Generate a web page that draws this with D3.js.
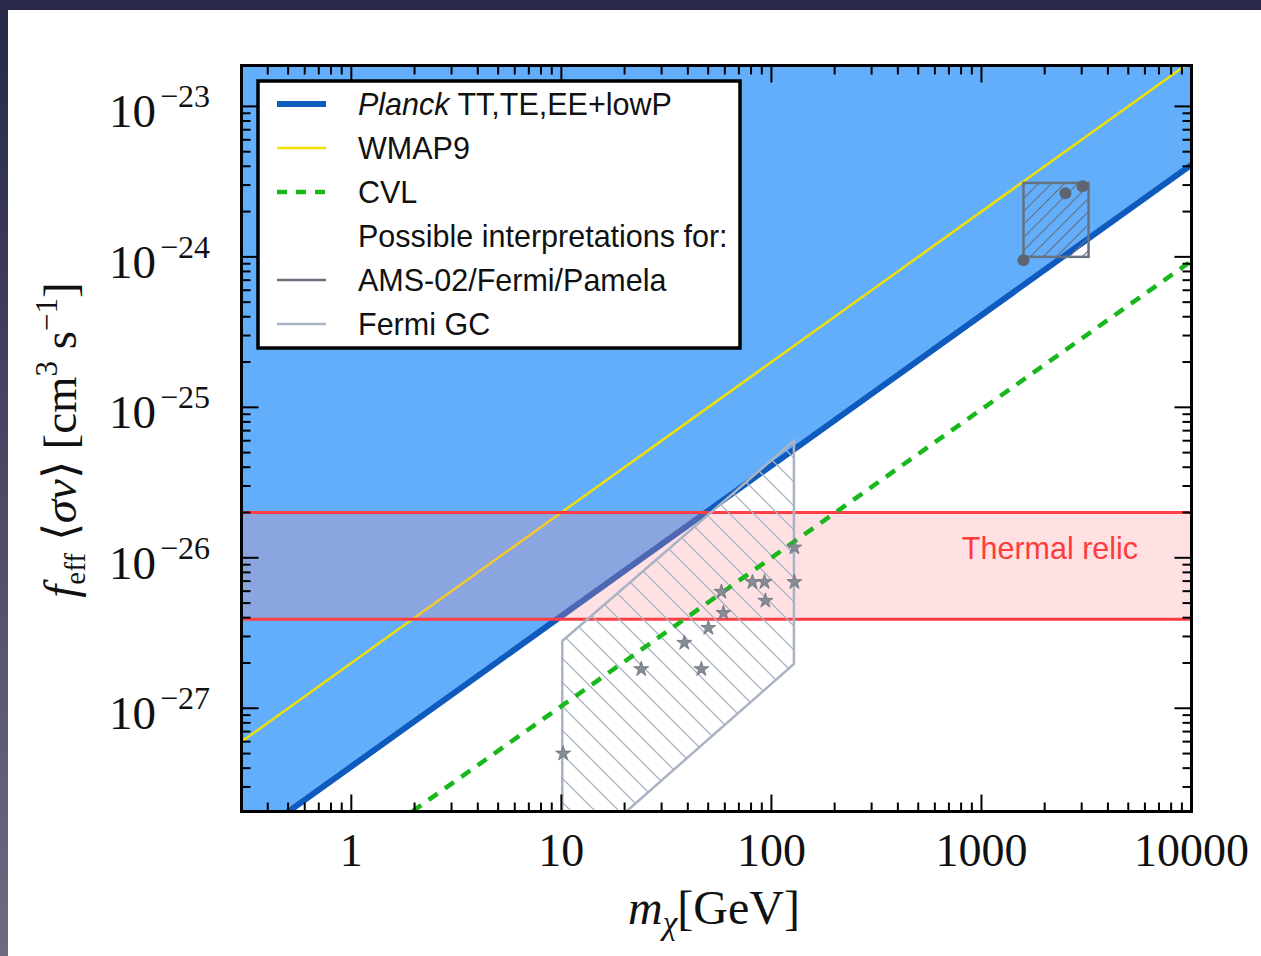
<!DOCTYPE html>
<html>
<head>
<meta charset="utf-8">
<script src="https://cdn.jsdelivr.net/npm/d3@7"></script>
<style>
  body { margin: 0; background: #ffffff; }
  svg { display: block; }
</style>
</head>
<body>
<svg id="chart" width="1261" height="956"></svg>
<script>
// ---- data: mass m_chi [GeV] vs f_eff <sigma v> [cm^3 s^-1] ----
const planckLine = [[0.3, 1.23e-28], [10000, 4.1e-24]];
const wmapLine   = [[0.3, 6.0e-28], [10000, 2.0e-23]];
const cvlLine    = [[1.95, 2.06e-28], [10000, 9.4e-25]];
const thermalBand = [3.9e-27, 2.0e-26];

const fermiGCRegion = [[10.1, 2.8e-27], [128, 6.0e-26], [128, 1.97e-27], [10.1, 8.7e-29]];
const fermiGCPoints = [
  [10.2, 5.0e-28], [24.0, 1.82e-27], [46.4, 1.82e-27], [38.5, 2.72e-27],
  [50.1, 3.42e-27], [59.1, 4.3e-27], [57.8, 5.94e-27], [81.2, 6.9e-27],
  [92.7, 6.9e-27], [93.6, 5.18e-27], [128.7, 1.17e-26], [128.7, 6.9e-27]
];
const amsRegion = [[1585, 1.0e-24], [3235, 3.1e-24]];
const amsPoints = [[1585, 9.5e-25], [2510, 2.65e-24], [3027, 2.95e-24]];

const xDomain = [0.3, 10000];
const yDomain = [2.06e-28, 1.87e-23];
const xTickValues = [1, 10, 100, 1000, 10000];
const xTickLabels = ["1", "10", "100", "1000", "10000"];
const yTickExponents = [-23, -24, -25, -26, -27];

const legendEntries = [
  { key: "planck", label: "TT,TE,EE+lowP", italic: "Planck" },
  { key: "wmap", label: "WMAP9" },
  { key: "cvl", label: "CVL" },
  { key: "none", label: "Possible interpretations for:" },
  { key: "ams", label: "AMS-02/Fermi/Pamela" },
  { key: "fermi", label: "Fermi GC" }
];

// ---- styles ----
const C = {
  fill: "#63aefb",
  planck: "#0f5bbd",
  wmap: "#f2e000",
  cvl: "#18b81c",
  band: "#ff8c97",
  bandEdge: "#ff3d45",
  fermi: "#a9b3c2",
  ams: "#67717f",
  star: "#858c96"
};

const svg = d3.select("#chart");
const W = 1261, H = 956;
const L = 241.5, R = 1191.5, T = 65.5, B = 811.5;

// dark surround along the top and left edges
const defs = svg.append("defs");
const grad = defs.append("linearGradient").attr("id", "edgeGrad")
  .attr("x1", 0).attr("y1", 0).attr("x2", 0).attr("y2", 1);
grad.append("stop").attr("offset", "0%").attr("stop-color", "#272848");
grad.append("stop").attr("offset", "100%").attr("stop-color", "#6d6b82");
svg.append("rect").attr("x", 0).attr("y", 0).attr("width", 8).attr("height", H).attr("fill", "url(#edgeGrad)");
svg.append("rect").attr("x", 0).attr("y", 0).attr("width", W).attr("height", 10).attr("fill", "#282948");

const x = d3.scaleLog().domain(xDomain).range([L, R]);
const y = d3.scaleLog().domain(yDomain).range([B, T]);

defs.append("clipPath").attr("id", "plotClip")
  .append("rect").attr("x", L).attr("y", T).attr("width", R - L).attr("height", B - T);

// hatch patterns
const hatchGC = defs.append("pattern").attr("id", "hatchGC")
  .attr("patternUnits", "userSpaceOnUse").attr("width", 24).attr("height", 24);
hatchGC.append("path").attr("d", "M0,0 L24,24 M-6,18 L6,30 M18,-6 L30,6")
  .attr("stroke", C.fermi).attr("stroke-width", 1.3).attr("fill", "none");

const hatchAMS = defs.append("pattern").attr("id", "hatchAMS")
  .attr("patternUnits", "userSpaceOnUse").attr("width", 13).attr("height", 13);
hatchAMS.append("path").attr("d", "M0,13 L13,0 M-4,4 L4,-4 M9,17 L17,9")
  .attr("stroke", C.ams).attr("stroke-width", 1.2).attr("fill", "none");

const plot = svg.append("g").attr("clip-path", "url(#plotClip)");
const line = d3.line().x(d => x(d[0])).y(d => y(d[1]));

// excluded region above the Planck limit
const excluded = [planckLine[0], planckLine[1], [planckLine[1][0], yDomain[1] * 10], [planckLine[0][0], yDomain[1] * 10]];
plot.append("path").attr("d", line(excluded) + "Z").attr("fill", C.fill);

plot.append("path").attr("d", line(planckLine))
  .attr("stroke", C.planck).attr("stroke-width", 6).attr("fill", "none");
plot.append("path").attr("d", line(wmapLine))
  .attr("stroke", C.wmap).attr("stroke-width", 2.5).attr("fill", "none");

// thermal relic band
plot.append("rect")
  .attr("x", L).attr("width", R - L)
  .attr("y", y(thermalBand[1])).attr("height", y(thermalBand[0]) - y(thermalBand[1]))
  .attr("fill", C.band).attr("fill-opacity", 0.26);
thermalBand.forEach(v => {
  plot.append("line").attr("x1", L).attr("x2", R).attr("y1", y(v)).attr("y2", y(v))
    .attr("stroke", C.bandEdge).attr("stroke-width", 3);
});

// Fermi GC region
plot.append("path").attr("d", line(fermiGCRegion) + "Z")
  .attr("fill", "url(#hatchGC)").attr("stroke", C.fermi).attr("stroke-width", 2.5);

// AMS-02/Fermi/Pamela region
plot.append("rect")
  .attr("x", x(amsRegion[0][0])).attr("y", y(amsRegion[1][1]))
  .attr("width", x(amsRegion[1][0]) - x(amsRegion[0][0]))
  .attr("height", y(amsRegion[0][1]) - y(amsRegion[1][1]))
  .attr("fill", "url(#hatchAMS)").attr("stroke", C.ams).attr("stroke-width", 2.5);
plot.selectAll("circle.ams").data(amsPoints).join("circle").attr("class", "ams")
  .attr("cx", d => x(d[0])).attr("cy", d => y(d[1])).attr("r", 6)
  .attr("fill", "#5e6570");

// CVL forecast
plot.append("path").attr("d", line(cvlLine))
  .attr("stroke", C.cvl).attr("stroke-width", 4.5).attr("stroke-dasharray", "11,9")
  .attr("fill", "none");

// Fermi GC best-fit points
const star = d3.symbol().type(d3.symbolStar).size(70);
plot.selectAll("path.star").data(fermiGCPoints).join("path").attr("class", "star")
  .attr("transform", d => `translate(${x(d[0])},${y(d[1])})`)
  .attr("d", star).attr("fill", C.star).attr("stroke", "#6a717b").attr("stroke-width", 0.8);

svg.append("text").attr("x", 1050).attr("y", 559)
  .attr("text-anchor", "middle")
  .attr("font-family", "Liberation Sans, Arial, sans-serif").attr("font-size", 30.5)
  .attr("fill", "#ff3b3b").text("Thermal relic");

// ---- ticks on all four sides ----
const tickG = svg.append("g").attr("stroke", "#000").attr("stroke-width", 2);
const majLen = 17, minLen = 9;
const xMinor = [];
for (let d = -1; d <= 4; d++) for (let k = 1; k <= 9; k++) {
  const v = k * Math.pow(10, d);
  if (v >= xDomain[0] && v <= xDomain[1]) xMinor.push({ v, major: k === 1 });
}
xMinor.forEach(t => {
  const px = x(t.v), len = t.major ? majLen : minLen;
  tickG.append("line").attr("x1", px).attr("x2", px).attr("y1", B).attr("y2", B - len);
  tickG.append("line").attr("x1", px).attr("x2", px).attr("y1", T).attr("y2", T + len);
});
const yMinor = [];
for (let d = -29; d <= -23; d++) for (let k = 1; k <= 9; k++) {
  const v = k * Math.pow(10, d);
  if (v >= yDomain[0] && v <= yDomain[1]) yMinor.push({ v, major: k === 1 });
}
yMinor.forEach(t => {
  const py = y(t.v), len = t.major ? majLen : minLen;
  tickG.append("line").attr("y1", py).attr("y2", py).attr("x1", L).attr("x2", L + len);
  tickG.append("line").attr("y1", py).attr("y2", py).attr("x1", R).attr("x2", R - len);
});

svg.append("rect").attr("x", L).attr("y", T).attr("width", R - L).attr("height", B - T)
  .attr("fill", "none").attr("stroke", "#000").attr("stroke-width", 3);

// ---- tick labels ----
const serif = "Liberation Serif, Times New Roman, serif";
svg.append("g").selectAll("text").data(xTickValues).join("text")
  .attr("x", d => x(d)).attr("y", 866).attr("text-anchor", "middle")
  .attr("font-family", serif).attr("font-size", 46).attr("fill", "#111")
  .text((d, i) => xTickLabels[i]);

const yl = svg.append("g").attr("font-family", serif).attr("fill", "#111");
yTickExponents.forEach(e => {
  const py = y(Math.pow(10, e));
  const t = yl.append("text").attr("x", 109).attr("y", py + 21).attr("font-size", 47);
  t.append("tspan").text("10");
  t.append("tspan").attr("font-size", 32).attr("dy", -20).attr("dx", 4).text("\u2212" + Math.abs(e));
});

// ---- axis titles ----
const xt = svg.append("text").attr("x", 714).attr("y", 924).attr("text-anchor", "middle")
  .attr("font-family", serif).attr("font-size", 48).attr("fill", "#111");
xt.append("tspan").attr("font-style", "italic").text("m");
xt.append("tspan").attr("font-style", "italic").attr("font-size", 33).attr("dy", 10).text("\u03c7");
xt.append("tspan").attr("dy", -10).text("[GeV]");

const ytG = svg.append("g").attr("transform", "translate(76,440) rotate(-90)");
const yt = ytG.append("text").attr("text-anchor", "middle")
  .attr("font-family", serif).attr("font-size", 47).attr("fill", "#111");
yt.append("tspan").attr("font-style", "italic").text("f");
yt.append("tspan").attr("font-size", 29).attr("dy", 9).text("eff");
yt.append("tspan").attr("dy", -9).text(" \u27e8");
yt.append("tspan").attr("font-style", "italic").text("\u03c3v");
yt.append("tspan").text("\u27e9 [cm");
yt.append("tspan").attr("font-size", 31).attr("dy", -19).text("3");
yt.append("tspan").attr("dy", 19).text(" s");
yt.append("tspan").attr("font-size", 31).attr("dy", -19).text("\u22121");
yt.append("tspan").attr("dy", 19).text("]");

// ---- legend ----
const lg = svg.append("g");
lg.append("rect").attr("x", 258).attr("y", 81).attr("width", 482).attr("height", 267)
  .attr("fill", "#fff").attr("stroke", "#000").attr("stroke-width", 3.5);
const sans = "Liberation Sans, Arial, sans-serif";
const styleFor = {
  planck: { c: C.planck, w: 6 },
  wmap: { c: C.wmap, w: 2.5 },
  cvl: { c: C.cvl, w: 4.5, dash: "10,9" },
  ams: { c: C.ams, w: 2.5 },
  fermi: { c: C.fermi, w: 2.5 }
};
legendEntries.forEach((e, i) => {
  const ly = 104 + i * 44;
  const s = styleFor[e.key];
  if (s) {
    const ln = lg.append("line").attr("x1", 277).attr("x2", 326).attr("y1", ly).attr("y2", ly)
      .attr("stroke", s.c).attr("stroke-width", s.w);
    if (s.dash) ln.attr("stroke-dasharray", s.dash);
  }
  const t = lg.append("text").attr("x", 358).attr("y", ly + 11)
    .attr("font-family", sans).attr("font-size", 30.5).attr("fill", "#111");
  if (e.italic) {
    t.append("tspan").attr("font-style", "italic").text(e.italic);
    t.append("tspan").text(" " + e.label);
  } else {
    t.text(e.label);
  }
});
</script>
</body>
</html>
